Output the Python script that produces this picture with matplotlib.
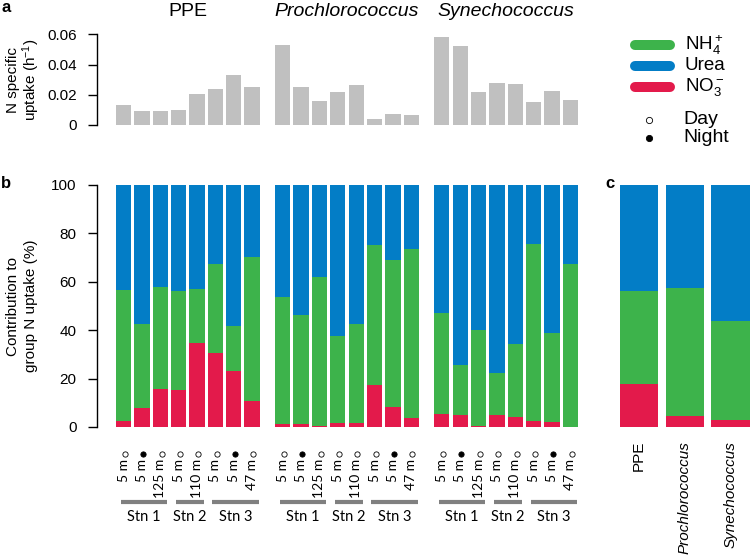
import numpy as np
import matplotlib
matplotlib.use("Agg")
import matplotlib.pyplot as plt
from matplotlib.transforms import blended_transform_factory

plt.rcParams['font.family'] = ['Liberation Sans', 'DejaVu Sans']
plt.rcParams['mathtext.fontset'] = 'custom'
plt.rcParams['mathtext.rm'] = 'Liberation Sans'
plt.rcParams['mathtext.it'] = 'Liberation Sans:italic'

# ---- data ----
groups = ['PPE', 'Prochlorococcus', 'Synechococcus']
depths = ['5 m', '5 m', '125 m', '5 m', '110 m', '5 m', '5 m', '47 m']
night = [0, 1, 0, 0, 0, 0, 1, 0]
stations = ['Stn 1', 'Stn 2', 'Stn 3']
station_first = [0, 3, 5]
station_last = [2, 4, 7]

# N specific uptake (h-1)
rate_ppe = [0.0135, 0.0090, 0.0090, 0.0099, 0.0205, 0.0238, 0.0333, 0.0249]
rate_pro = [0.0532, 0.0251, 0.0159, 0.0216, 0.0265, 0.0037, 0.0073, 0.0068]
rate_syn = [0.0580, 0.0523, 0.0216, 0.0276, 0.0269, 0.0150, 0.0227, 0.0165]

# contribution (%) per sample
no3_ppe = [2.6, 7.8, 15.5, 15.3, 34.8, 30.4, 23.0, 10.9]
nh4_ppe = [53.8, 34.7, 42.3, 40.8, 22.0, 36.7, 18.8, 59.3]
no3_pro = [1.4, 1.4, 0.6, 1.5, 1.5, 17.3, 8.4, 3.9]
nh4_pro = [52.4, 44.7, 61.2, 36.2, 41.1, 57.7, 60.5, 69.6]
no3_syn = [5.4, 5.0, 0.4, 5.0, 4.1, 2.6, 1.9, 0.1]
nh4_syn = [41.6, 20.7, 39.8, 17.4, 30.3, 72.8, 36.9, 67.2]

# whole group contribution (%)
no3_all = [17.6, 4.4, 3.0]
nh4_all = [38.5, 53.1, 40.7]

rates = [rate_ppe, rate_pro, rate_syn]
no3s = [no3_ppe, no3_pro, no3_syn]
nh4s = [nh4_ppe, nh4_pro, nh4_syn]

C_NH4 = '#3db34b'
C_UREA = '#037dc6'
C_NO3 = '#e31a4b'
C_GREY = '#c0c0c0'

W, H = 751, 560
fig = plt.figure(figsize=(W / 100, H / 100), dpi=100)


def rect(l, t, r, b):
    return [l / W, 1 - b / H, (r - l) / W, (b - t) / H]


def fy(py):
    return 1 - py / H


ax_a = fig.add_axes(rect(97, 34.3, 593, 125))
ax_b = fig.add_axes(rect(97, 184.7, 593, 427))
ax_c = fig.add_axes(rect(612.4, 184.7, 751, 427))

n = len(depths)
idx = np.arange(n)

for g in range(3):
    left = g * 10.4 + 0.2 + 1.2 * idx
    r = np.array(rates[g])
    no3 = np.array(no3s[g])
    nh4 = np.array(nh4s[g])
    urea = 100 - no3 - nh4
    ax_a.bar(left, r, width=1, align='edge', color=C_GREY, linewidth=0)
    ax_b.bar(left, no3, width=1, align='edge', color=C_NO3, linewidth=0)
    ax_b.bar(left, nh4, bottom=no3, width=1, align='edge', color=C_NH4, linewidth=0)
    ax_b.bar(left, urea, bottom=no3 + nh4, width=1, align='edge', color=C_UREA, linewidth=0)

    centre = g * 10.4 + 0.2 + 1.2 * (n - 1) / 2 + 0.5
    ax_a.text(centre, fy(12), groups[g], transform=blended_transform_factory(ax_a.transData, fig.transFigure),
              ha='center', va='center', fontsize=14, style='normal' if g == 0 else 'italic')

    trans = blended_transform_factory(ax_b.transData, fig.transFigure)
    for i in range(n):
        xc = left[i] + 0.5
        ax_b.text(xc, fy(459), depths[i], transform=trans, rotation=90, ha='center', va='top',
                  fontsize=10, family=['Lato', 'DejaVu Sans'])
        ax_b.plot([xc + 0.08], [fy(454)], transform=trans, marker='o', markersize=3.8,
                  markerfacecolor='black' if night[i] else 'white', markeredgecolor='black',
                  markeredgewidth=0.6, clip_on=False)
    for s in range(3):
        x1 = left[station_first[s]] + 0.3
        x2 = left[station_last[s]] + 0.95
        ax_b.plot([x1, x2], [fy(502), fy(502)], transform=trans, color='#808080', lw=3,
                  solid_capstyle='butt', clip_on=False)
        ax_b.text((x1 + x2) / 2, fy(517), stations[s], transform=trans, ha='center', va='center',
                  fontsize=10.5, family=['Lato', 'DejaVu Sans'])

for ax in (ax_a, ax_b):
    ax.set_xlim(-1.039, 31.38)
    for sp in ('top', 'right', 'bottom'):
        ax.spines[sp].set_visible(False)
    ax.spines['left'].set_linewidth(1)
    ax.tick_params(axis='y', length=6.7, width=1, labelsize=11, pad=8)
    ax.set_xticks([])

ax_a.set_ylim(0, 0.06)
ax_a.set_yticks([0, 0.02, 0.04, 0.06])
ax_a.set_yticklabels(['0', '0.02', '0.04', '0.06'])
ax_b.set_ylim(0, 100)
ax_b.set_yticks([0, 20, 40, 60, 80, 100])

fig.text(13 / W, fy(80), 'N specific', rotation=90, ha='center', va='center', fontsize=11)
fig.text(31 / W, fy(80), 'uptake (h$^{-1}$)', rotation=90, ha='center', va='center', fontsize=11)
fig.text(13 / W, fy(306), 'Contribution to', rotation=90, ha='center', va='center', fontsize=11)
fig.text(31 / W, fy(306), 'group N uptake (%)', rotation=90, ha='center', va='center', fontsize=11)

# panel c
cl = 0.2 + 1.2 * np.arange(3)
no3c = np.array(no3_all)
nh4c = np.array(nh4_all)
ax_c.bar(cl, no3c, width=1, align='edge', color=C_NO3, linewidth=0)
ax_c.bar(cl, nh4c, bottom=no3c, width=1, align='edge', color=C_NH4, linewidth=0)
ax_c.bar(cl, 100 - no3c - nh4c, bottom=no3c + nh4c, width=1, align='edge', color=C_UREA, linewidth=0)
ax_c.set_xlim(0, 138.6 / 38.1)
ax_c.set_ylim(0, 100)
ax_c.axis('off')
tc = blended_transform_factory(ax_c.transData, fig.transFigure)
for i in range(3):
    ax_c.text(cl[i] + 0.5, fy(441), groups[i], transform=tc, rotation=90, ha='center', va='top',
              fontsize=11, style='normal' if i == 0 else 'italic')

# panel letters
fig.text(1 / W, fy(8), 'a', fontsize=12, fontweight='bold', ha='left', va='center')
fig.text(1 / W, fy(184), 'b', fontsize=12, fontweight='bold', ha='left', va='center')
fig.text(605 / W, fy(183), 'c', fontsize=12, fontweight='bold', ha='left', va='center')

# legend
leg_labels = ['NH$_4^+$', 'Urea', 'NO$_3^-$']
leg_colors = [C_NH4, C_UREA, C_NO3]
leg_y = [45, 65.5, 86.5]
for lab, col, py in zip(leg_labels, leg_colors, leg_y):
    fig.add_artist(plt.Line2D([635 / W, 670 / W], [fy(py), fy(py)], color=col, lw=7.2,
                              solid_capstyle='round', transform=fig.transFigure))
    fig.text(685 / W, fy(py), lab, fontsize=13.5, ha='left', va='center')
for lab, fc, py in zip(['Day', 'Night'], ['white', 'black'], [120, 138]):
    fig.add_artist(plt.Line2D([649 / W], [fy(py)], marker='o', markersize=4.5, markerfacecolor=fc,
                              markeredgecolor='black', markeredgewidth=0.6, transform=fig.transFigure))
    fig.text(683 / W, fy(py), lab, fontsize=14, ha='left', va='center')

fig.savefig('out.png', dpi=100)
